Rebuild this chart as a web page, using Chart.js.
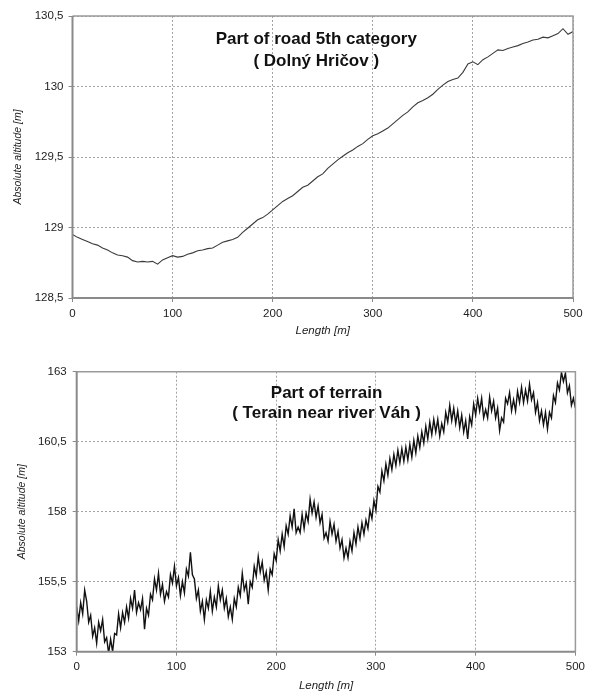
<!DOCTYPE html>
<html>
<head>
<meta charset="utf-8">
<title>Altitude profiles</title>
<script src="https://cdn.jsdelivr.net/npm/chart.js@4/dist/chart.umd.min.js"></script>
<style>
  body { margin: 0; background: #fff; }
  #wrap { position: relative; width: 589px; height: 693px; }
  canvas { position: absolute; left: 0; }
  #road { top: 0; }
  #terrain { top: 345px; }
</style>
</head>
<body>
<div id="wrap">
  <canvas id="road" width="589" height="345"></canvas>
  <canvas id="terrain" width="589" height="348"></canvas>
</div>
<script>
// road profile, one reading every 5 m
const roadStep = 5;
const roadAltitude = [
  128.95, 128.93, 128.915, 128.90, 128.885, 128.875, 128.855, 128.84, 128.82, 128.805,
  128.80, 128.79, 128.765, 128.755, 128.76, 128.755, 128.76, 128.74, 128.77, 128.785,
  128.80, 128.79, 128.795, 128.81, 128.82, 128.835, 128.84, 128.85, 128.855, 128.875,
  128.895, 128.905, 128.915, 128.93, 128.965, 128.995, 129.025, 129.055, 129.07, 129.095,
  129.125, 129.155, 129.185, 129.205, 129.225, 129.255, 129.285, 129.30, 129.33, 129.36,
  129.38, 129.42, 129.45, 129.48, 129.505, 129.53, 129.55, 129.575, 129.595, 129.625,
  129.65, 129.665, 129.685, 129.705, 129.735, 129.765, 129.795, 129.82, 129.855, 129.885,
  129.90, 129.92, 129.945, 129.98, 130.01, 130.035, 130.05, 130.06, 130.10, 130.16,
  130.175, 130.155, 130.19, 130.21, 130.235, 130.26, 130.255, 130.27, 130.28, 130.29,
  130.305, 130.315, 130.33, 130.335, 130.35, 130.345, 130.36, 130.375, 130.41, 130.37,
  130.39
];

// terrain profile, one reading every 2 m
const terrainStep = 2;
const terrainAltitude = [
  154.6, 154.1, 154.75, 154.35, 155.2, 154.8, 154.05, 154.3, 153.55, 153.85,
  153.3, 154.05, 153.75, 154.15, 153.35, 153.5, 152.95, 153.45, 153.0, 153.65,
  153.6, 154.35, 153.85, 154.4, 154.05, 154.6, 154.2, 154.9, 154.55, 155.2,
  154.4, 154.75, 154.5, 154.9, 153.8, 154.55, 154.3, 155.05, 154.85, 155.6,
  155.2, 155.8, 155.05, 155.4, 154.8, 155.15, 154.95, 155.75, 155.45, 156.05,
  155.35, 155.65, 155.0, 155.5, 155.1, 155.95, 155.7, 156.55, 155.75, 155.6,
  154.9, 155.2, 154.45, 154.8, 154.15, 154.85, 154.55, 155.15, 154.45, 154.95,
  154.6, 155.35, 154.85, 155.2, 154.55, 154.9, 154.25, 154.6, 154.15, 154.9,
  154.6, 155.3, 155.0, 155.8, 155.2, 155.45, 154.7, 155.5, 155.3, 156.05,
  155.7, 156.4, 155.85, 156.2, 155.55, 155.85, 155.2, 155.95, 155.75, 156.5,
  156.25, 157.0, 156.6, 157.2, 156.75, 157.5, 157.2, 157.85, 157.45, 158.1,
  157.25, 157.45, 157.25, 157.9, 157.4, 157.95, 157.65, 158.45, 157.95, 158.35,
  157.8, 158.2, 157.6, 157.9, 157.05, 157.25, 156.95, 157.65, 157.2, 157.55,
  156.95, 157.3, 156.7, 157.0, 156.35, 156.7, 156.35, 156.95, 156.6, 157.25,
  156.85, 157.45, 157.05, 157.6, 157.2, 157.7, 157.4, 158.05, 157.75, 158.4,
  158.05, 158.9, 158.7, 159.45, 159.1, 159.7, 159.3, 159.9, 159.5, 160.05,
  159.65, 160.2, 159.75, 160.25, 159.8, 160.3, 159.85, 160.4, 159.95, 160.55,
  160.1, 160.7, 160.3, 160.85, 160.45, 161.05, 160.6, 161.2, 160.75, 161.3,
  160.85, 161.3, 160.7, 161.15, 160.85, 161.55, 161.2, 161.8, 161.25, 161.7,
  161.15, 161.6, 161.0, 161.45, 160.85, 161.25, 160.6, 161.4, 161.1, 161.85,
  161.45, 162.05, 161.6, 162.05, 161.35, 161.65, 161.35, 162.1, 161.6, 161.95,
  161.35, 161.7, 160.9, 161.35, 161.2, 162.05, 161.85, 162.25, 161.6, 162.0,
  161.6, 162.3, 161.9, 162.45, 161.9, 162.35, 161.95, 162.55, 162.0, 162.25,
  161.55, 161.9, 161.25, 161.6, 161.1, 161.55, 160.95, 161.55, 161.35, 162.15,
  161.9, 162.6, 162.35, 162.98, 162.65, 162.95, 162.25, 162.5, 161.8, 162.05,
  161.7
];

const commaDecimal = (v) => String(v).replace('.', ',');

const toPoints = (values, step) => values.map((v, i) => ({x: i * step, y: v}));

// frame round the plot area plus the two-line caption inside it
const framePlugin = {
  id: 'frame',
  afterDraw(chart, args, opts) {
    const {ctx, chartArea: a} = chart;
    ctx.save();
    ctx.strokeStyle = '#9a9a9a';
    ctx.lineWidth = 1.5;
    ctx.beginPath();
    ctx.moveTo(a.left, a.top);
    ctx.lineTo(a.right, a.top);
    ctx.lineTo(a.right, a.bottom);
    ctx.stroke();
    ctx.strokeStyle = '#8a8a8a';
    ctx.lineWidth = 2;
    ctx.beginPath();
    ctx.moveTo(a.left, a.top);
    ctx.lineTo(a.left, a.bottom);
    ctx.lineTo(a.right, a.bottom);
    ctx.stroke();

    ctx.fillStyle = '#111';
    ctx.font = 'bold 17px "Liberation Sans", Arial, sans-serif';
    ctx.textAlign = 'center';
    ctx.textBaseline = 'middle';
    const cx = a.left + (a.right - a.left) * opts.xFrac;
    opts.lines.forEach((t, i) => ctx.fillText(t, cx, a.top + opts.y[i]));
    ctx.restore();
  }
};

const makeChart = (id, cfg) => {
  new Chart(id, {
    type: 'line',
    data: {
      datasets: [{
        data: toPoints(cfg.values, cfg.step),
        borderColor: cfg.color,
        borderWidth: cfg.width,
        pointRadius: 0,
        tension: 0
      }]
    },
    options: {
      responsive: false,
      animation: false,
      events: [],
      layout: {padding: cfg.padding},
      plugins: {
        legend: {display: false},
        tooltip: {enabled: false},
        frame: cfg.caption
      },
      scales: {
        x: {
          type: 'linear',
          min: 0,
          max: 500,
          afterFit: (s) => { s.height = cfg.xHeight; },
          ticks: {stepSize: 100, color: '#222', padding: cfg.xTickPad,
                  font: {family: '"Liberation Sans", Arial', size: 11.5}},
          grid: {color: '#a5a5a5', tickColor: '#8a8a8a', tickLength: 4, tickBorderDash: []},
          border: {display: false, dash: [2, 2]},
          title: {display: true, text: 'Length [m]', color: '#222',
                  padding: {top: 0, bottom: cfg.xTitlePad},
                  font: {family: '"Liberation Sans", Arial', size: 11.5, style: 'italic'}}
        },
        y: {
          min: cfg.yMin,
          max: cfg.yMax,
          afterFit: (s) => { s.width = cfg.yWidth; },
          ticks: {stepSize: cfg.yStep, color: '#222', padding: cfg.yTickPad, callback: commaDecimal,
                  font: {family: '"Liberation Sans", Arial', size: 11.5}},
          grid: {color: '#a5a5a5', tickColor: '#8a8a8a', tickLength: 4, tickBorderDash: []},
          border: {display: false, dash: [2, 2]},
          title: {display: true, text: 'Absolute altitude [m]', color: '#222',
                  padding: {top: cfg.yTitlePad, bottom: 0},
                  font: {family: '"Liberation Sans", Arial', size: 10.5, style: 'italic'}}
        }
      }
    },
    plugins: [framePlugin]
  });
};

makeChart('road', {
  values: roadAltitude, step: roadStep, color: '#3a3a3a', width: 1.1,
  padding: {top: 16, right: 16, left: 0, bottom: 0},
  xHeight: 47, yWidth: 72.5, xTickPad: 5, yTickPad: 5, xTitlePad: 7, yTitlePad: 12,
  yMin: 128.5, yMax: 130.5, yStep: 0.5,
  caption: {lines: ['Part of road 5th category', '( Dolný Hričov )'], xFrac: 0.487, y: [23, 45]}
});

makeChart('terrain', {
  values: terrainAltitude, step: terrainStep, color: '#111', width: 1.4,
  padding: {top: 26.7, right: 13, left: 0, bottom: 0},
  xHeight: 41.3, yWidth: 76.7, xTickPad: 4, yTickPad: 6, xTitlePad: 0, yTitlePad: 16,
  yMin: 153, yMax: 163, yStep: 2.5,
  caption: {lines: ['Part of terrain', '( Terain near river Váh )'], xFrac: 0.501, y: [21.3, 41.3]}
});
</script>
</body>
</html>
